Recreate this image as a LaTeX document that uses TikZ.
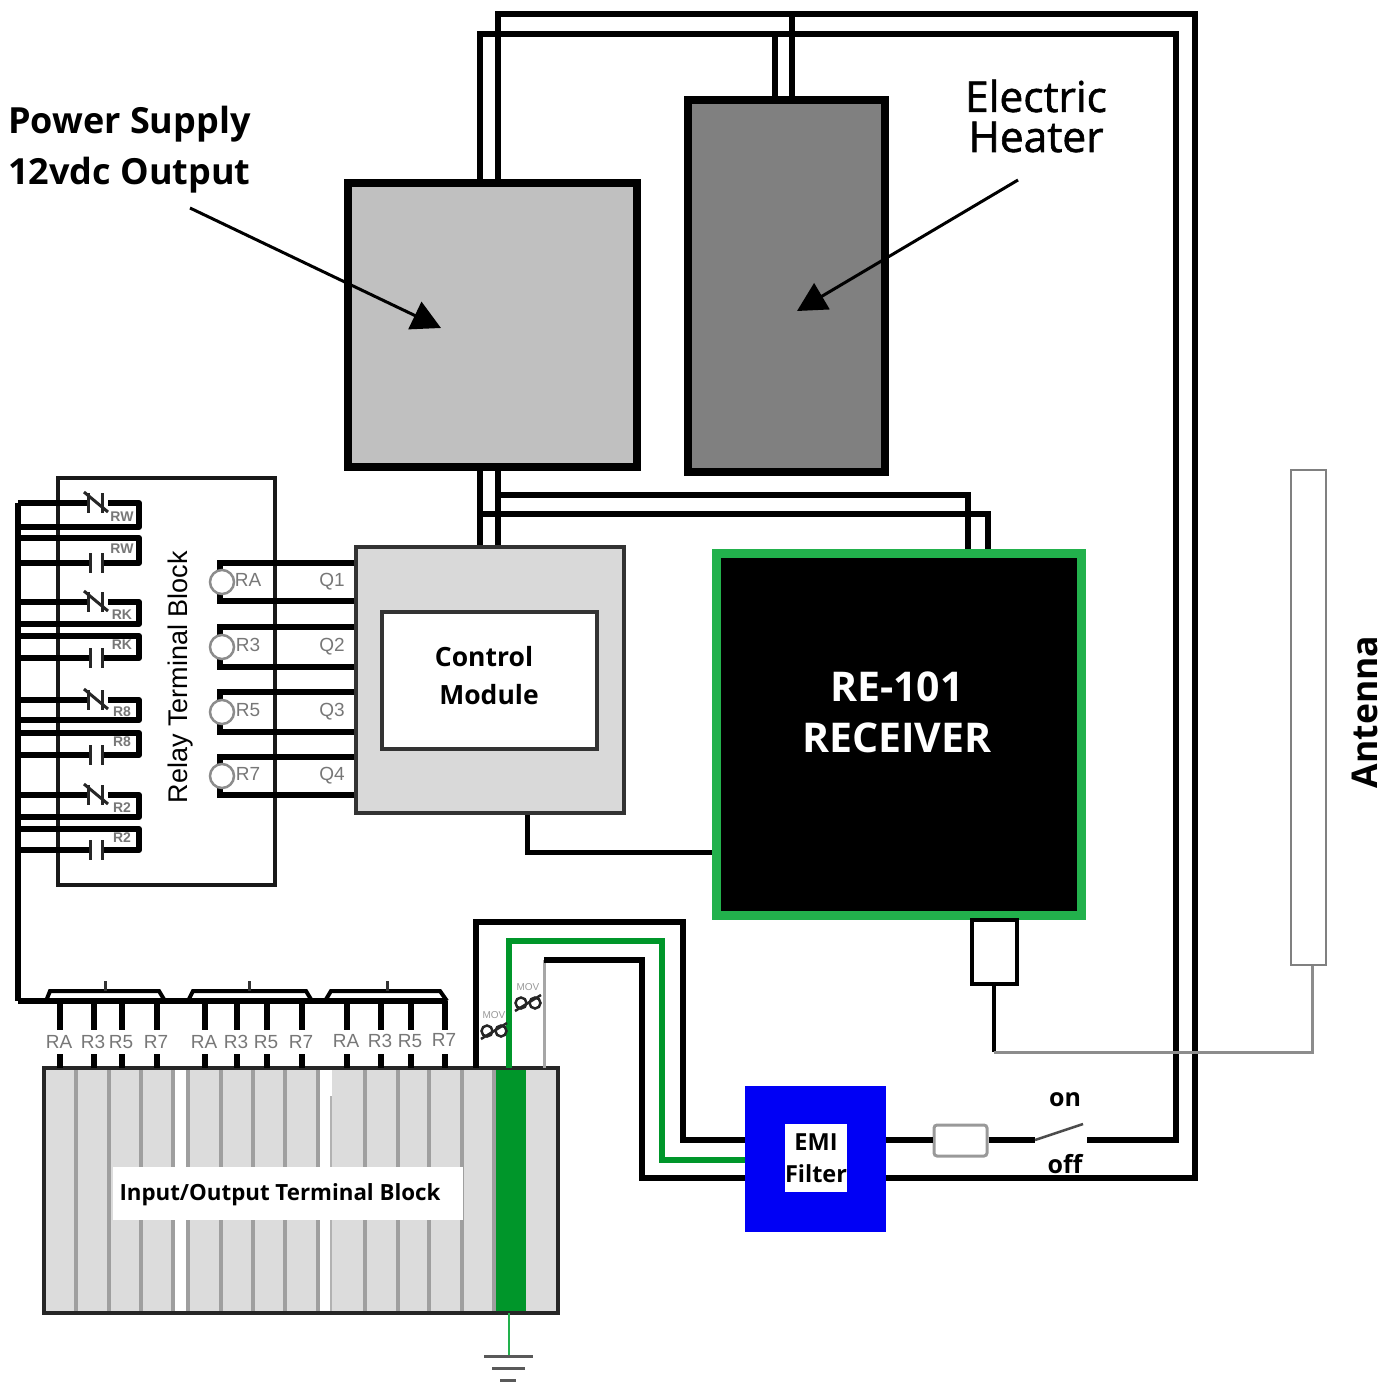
\documentclass[tikz,border=0pt]{standalone}
\usepackage{fontspec}
\setmainfont{Open Sans}
\newfontfamily\arialfont{Liberation Sans}
\newfontfamily\semifont{Open Sans}[FakeBold=1.4]
\usetikzlibrary{arrows.meta}
\definecolor{psgray}{HTML}{C0C0C0}
\definecolor{htgray}{HTML}{808080}
\definecolor{cmgray}{HTML}{D9D9D9}
\definecolor{tbgray}{HTML}{DCDCDC}
\definecolor{rxgreen}{HTML}{22B14C}
\definecolor{wgreen}{HTML}{00962A}
\definecolor{lblgray}{HTML}{777777}
\definecolor{emiblue}{HTML}{0000F5}
\newcommand\PB[7]{%
  \pgfmathsetmacro\pbcx{(#3+#5)/2}\pgfmathsetmacro\pbcy{(#4+#6)/2}%
  \pgfmathsetmacro\pbw{#5-#3}\pgfmathsetmacro\pbh{#6-#4}%
  \node[#1,inner sep=0pt,align=center,minimum width=\pbw pt,minimum height=\pbh pt] (#2) at (\pbcx,\pbcy) {#7};}
\newcommand\fs[1]{\fontsize{#1}{#1}\selectfont}
\tikzset{
  wire/.style={line width=6.5pt,black,line join=miter},
  thinw/.style={line width=4pt,black},
  gwire/.style={line width=6.5pt,wgreen},
  graywire/.style={line width=3pt,gray!90},
  relaywire/.style={line width=6pt,black,line join=round},
  rlabel/.style={font=\arialfont\fs{19},text=lblgray,inner sep=0pt},
  tiny/.style={font=\arialfont\fs{10},text=gray!80,inner sep=0pt},
  callout/.style={line width=3pt,-{Triangle[length=29pt,width=30pt]}},
  heading/.style={font=\bfseries\fs{36},inner sep=0pt,anchor=west},
  heavybox/.style={draw=black,line width=8pt},
  divider/.style={line width=3.5pt,gray!75},
  contact/.style={line width=3pt,black!85},
}
\begin{document}
\begin{tikzpicture}[x=1pt,y=-1pt]
\useasboundingbox (0,0) rectangle (1396,1384);
% ---- Named wire rails
\coordinate (xa) at (480,0); \coordinate (xb) at (498,0);
\coordinate (xc) at (775,0); \coordinate (xd) at (792,0);
\coordinate (xe) at (1176,0); \coordinate (xf) at (1195,0);
\coordinate (xg) at (968,0); \coordinate (xh) at (988,0);
% ---- Main boxes
\PB{heavybox,fill=psgray}{ps}{348}{183}{637}{467}{}
\PB{heavybox,fill=htgray}{ht}{688}{100}{885}{472}{}
\PB{draw=black!80,line width=3.5pt,fill=cmgray}{cm}{356}{547}{624}{813}{}
\PB{draw=black!80,line width=4pt,fill=white}{cmi}{382}{612}{597}{749}{}
\node[font=\bfseries\fs{26.5},inner sep=0pt] (cmt1) at (484,657) {Control};
\node[font=\bfseries\fs{26.5},inner sep=0pt] (cmt2) at (489,695) {Module};
\PB{draw=rxgreen,line width=9pt,fill=black}{rx}{716}{553}{1081}{915}{}
\node[text=white,font=\bfseries\fs{41},align=center,inner sep=0pt] (rxt) at (897,712) {RE-101\\[10pt]RECEIVER};
\PB{draw=black,line width=4pt,fill=white}{conn}{972}{920}{1017}{984}{}
\PB{draw=gray,line width=2.5pt,fill=white}{ant}{1291}{470}{1326}{965}{}
\PB{fill=emiblue}{emi}{745}{1086}{886}{1232}{}
\PB{fill=white,font=\bfseries\fs{23.5}}{emit}{786}{1124}{846}{1192}{EMI\\[9pt]Filter}
\PB{draw=gray!80,line width=3pt,fill=white,rounded corners=3pt}{fuse}{934}{1125}{987}{1156}{}
% ---- Supply wires
\draw[wire] (ps.north -| xb) |- (xf |- 0,14) |- (emi.east |- 0,1178);
\draw[wire] (ps.north -| xa) |- (xe |- 0,34) |- (1087,1140) coordinate (swb);
\draw[wire] (ht.north -| xc) -- (xc |- 0,34);
\draw[wire] (ht.north -| xd) -- (xd |- 0,14);
\draw[wire] (ps.south -| xa) -- (cm.north -| xa);
\draw[wire] (ps.south -| xb) -- (cm.north -| xb);
\draw[wire] (xb |- 0,495) -| (rx.north -| xg);
\draw[wire] (xa |- 0,514) -| (rx.north -| xh);
\draw[thinw,line width=5pt] (cm.south -| 527,0) |- (rx.west |- 0,852);
% ---- Antenna
\draw[thinw] (conn.south -| 994,0) -- (994,1052) coordinate (ac);
\draw[graywire] (ac) -| (ant.south -| 1312,0);
% ---- Switch and fuse
\draw[wire] (emi.east |- 0,1140) -- (fuse.west |- 0,1140);
\draw[wire] (fuse.east |- 0,1140) -- (1035,1140) coordinate (swa);
\coordinate (swt) at (1083,1124);
\draw[line width=2.5pt,black!70] (swa) -- (swt);
\node[font=\bfseries\fs{25},inner sep=0pt] (on) at (1065,1100) {on};
\node[font=\bfseries\fs{25},inner sep=0pt] (off) at (1065,1164) {off};
% ---- Relay terminal block
\PB{draw=black!90,line width=4pt}{rt}{58}{478}{275}{885}{}
\node[font=\arialfont\fs{27},rotate=90,inner sep=0pt] (rtt) at (181,677) {Relay Terminal Block};
\coordinate (bus) at (18,0);
\draw[wire] (bus |- 0,503) -- (18,1001) coordinate (busb);
% contacts: NC pair and NO pair in each group
\foreach \ya/\yb/\yc/\yd/\la/\lb in {503/527/538/563/RW/RW,602/624/636/658/RK/RK,700/720/733/755/R8/R8,795/817/829/850/R2/R2}{
  \draw[relaywire] (18,\ya) -- (88,\ya);
  \draw[relaywire] (108,\ya) -- (139,\ya) -- (139,\yb) -- (18,\yb);
  \draw[contact] (88,\ya-10) -- (88,\ya+10);
  \draw[contact] (102,\ya-10) -- (102,\ya+10);
  \draw[contact] (84,\ya-11) -- (108,\ya+9);
  \draw[relaywire] (18,\yc) -- (139,\yc) -- (139,\yd) -- (102,\yd);
  \draw[relaywire] (18,\yd) -- (90,\yd);
  \draw[contact] (90,\yd-10) -- (90,\yd+10);
  \draw[contact] (102,\yd-10) -- (102,\yd+10);
  \node[rlabel,font=\arialfont\bfseries\fs{14}] at (122,{(\ya+\yb)/2+2}) {\la};
  \node[rlabel,font=\arialfont\bfseries\fs{14}] at (122,{(\yc+\yd)/2-2}) {\lb};
}
% Q outputs
\foreach \n/\yt/\yb/\lq/\lr in {1/563/601/Q1/RA,2/627/667/Q2/R3,3/692/732/Q3/R5,4/757/795/Q4/R7}{
  \pgfmathsetmacro\ym{(\yt+\yb)/2}
  \draw[wire] (cm.west |- 0,\yt) -| (220,\ym);
  \draw[wire] (cm.west |- 0,\yb) -| (220,\ym);
  \node[circle,draw=gray!90,line width=2.5pt,fill=white,minimum size=24pt,inner sep=0pt] (rc\n) at (222,\ym) {};
  \node[rlabel] (rl\n) at (248,\ym-2) {\lr};
  \node[rlabel] (ql\n) at (332,\ym) {\lq};
}
% ---- I/O terminal block
\PB{fill=tbgray}{tb}{44}{1068}{558}{1313}{}
\fill[white] (174,1070) rectangle (188,1311);
\fill[white] (320,1070) rectangle (332,1311);
\foreach \x in {76,109,141,173,188,221,253,285,318,365,398,429,462}{
  \draw[divider] (\x,1068) -- (\x,1313);
}
\draw[line width=2pt,gray!60] (331,1096) -- (331,1313);
\fill[wgreen] (494,1068) rectangle (526,1313);
\draw[divider] (494,1068) -- (494,1313);
\draw[line width=4.5pt,black!85] (tb.north west) rectangle (tb.south east);
\PB{fill=white}{tbl}{113}{1167}{463}{1220}{}
\node[font=\bfseries\fs{22.3},inner sep=0pt] (tblt) at (280,1195) {Input/Output Terminal Block};
% bus bars over terminals
\draw[wire] (busb) -- (445,1001);
\draw[line width=4pt] (46,1001) -- (50,991) -- (159,991) -- (165,1001);
\draw[line width=4pt] (188,1001) -- (193,991) -- (306,991) -- (312,1001);
\draw[line width=4pt] (325,1001) -- (331,991) -- (440,991) -- (447,1001);
\foreach \x in {105,249,387}{\draw[line width=3pt,black!80] (\x,981) -- (\x,991);}
\foreach \x/\l/\y in {60/RA/1042,94/R3/1042,122/R5/1042,157/R7/1042,205/RA/1042,237/R3/1042,267/R5/1042,302/R7/1042,347/RA/1041,381/R3/1041,411/R5/1041,445/R7/1040}{
  \draw[wire] (\x,1001) -- (\x,1030);
  \draw[wire] (\x,1054) -- (\x,1068);
  \node[rlabel] at (\x-1,\y) {\l};
}
% ---- EMI wires
\draw[wire] (tb.north -| 476,0) |- (683,922) |- (emi.west |- 0,1140);
\draw[gwire] (tb.north -| 509,0) |- (662,941) |- (emi.west |- 0,1160);
\draw[line width=3pt,gray!70] (tb.north -| 544,0) -- (544,960) coordinate (nb);
\draw[wire] (nb) -| (642,1178) -- (emi.west |- 0,1178);
% MOVs
\foreach \x/\y in {494/1031,528/1003}{
  \draw[line width=2.5pt,black!85] (\x-7,\y) circle[radius=5.5pt];
  \draw[line width=2.5pt,black!85] (\x+7,\y) circle[radius=5.5pt];
  \draw[line width=2.5pt,black!85] (\x-13,\y+8) -- (\x+13,\y-8);
  \node[tiny] at (\x,\y-16) {MOV};
}
% ---- Ground
\draw[line width=2.5pt,rxgreen] (tb.south -| 509,0) -- (509,1356) coordinate (gnd);
\draw[line width=3pt,gray!70!black] (484,1356) -- (533,1356);
\draw[line width=3pt,gray!70!black] (492,1368) -- (525,1368);
\draw[line width=3pt,gray!70!black] (500,1380) -- (516,1380);
% ---- Headings and callouts
\node[heading] (pst) at (8,124) {Power Supply};
\node[heading] (pst2) at (8,175) {12vdc Output};
\node[font=\semifont\fs{42.5},inner sep=0pt] (htt) at (1036,96) {Electric};
\node[font=\semifont\fs{42.5},inner sep=0pt] (htt2) at (1036,137) {Heater};
\node[font=\bfseries\fs{35.5},rotate=90,inner sep=0pt] (antt) at (1365,712) {Antenna};
\coordinate (ca) at (190,208); \coordinate (cb) at (441,328);
\coordinate (cc) at (1018,180); \coordinate (cd) at (797,311);
\draw[callout] (ca) -- (cb);
\draw[callout] (cc) -- (cd);
\end{tikzpicture}
\end{document}
